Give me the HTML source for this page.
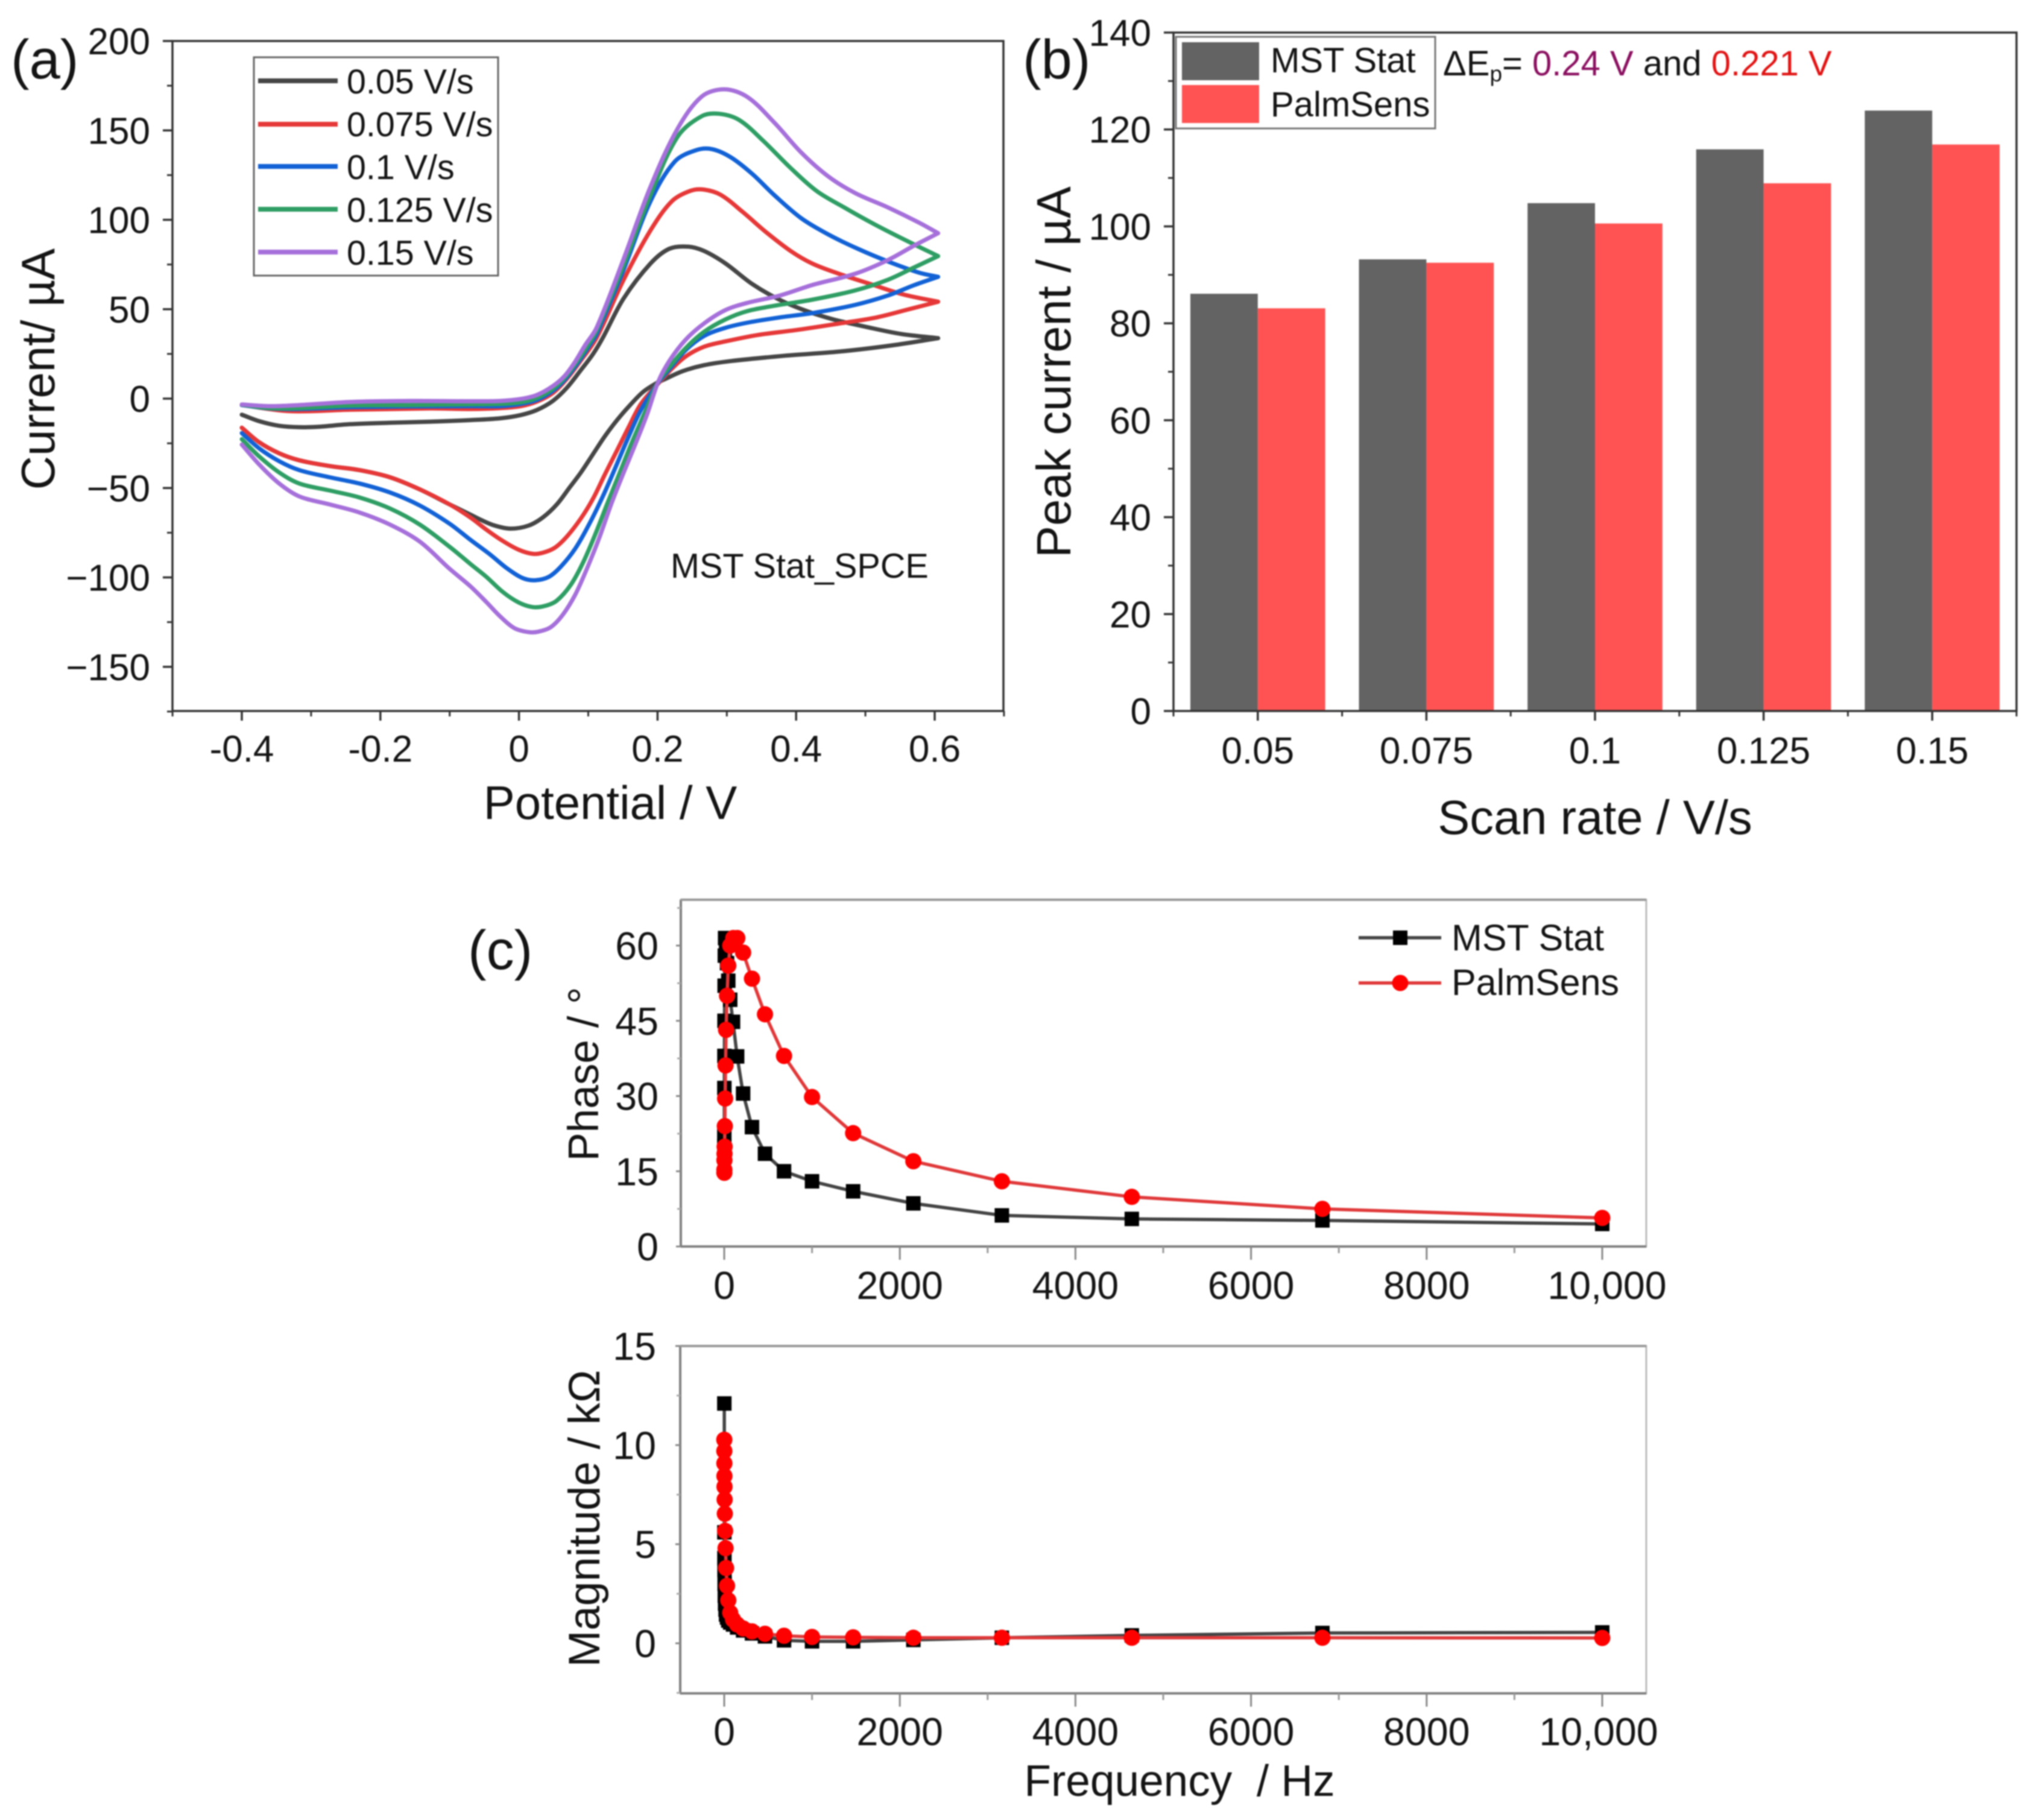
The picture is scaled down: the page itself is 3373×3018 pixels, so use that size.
<!DOCTYPE html>
<html lang="en">
<head>
<meta charset="utf-8">
<title>Electrochemical comparison of MST Stat and PalmSens</title>
<style>
html,body{margin:0;padding:0;background:#fff;width:3373px;height:3018px;overflow:hidden}
svg{display:block;filter:blur(1.1px)}
text{font-family:"Liberation Sans",sans-serif;fill:#141414}
</style>
</head>
<body>
<svg id="figure" xmlns="http://www.w3.org/2000/svg" width="3373" height="3018" viewBox="0 0 3373 3018">
  <rect x="0" y="0" width="3373" height="3018" fill="#fff"/>

  <text x="18" y="130" font-size="92">(a)</text>
  <text x="1696" y="130" font-size="92">(b)</text>
  <text x="776" y="1607" font-size="92">(c)</text>

  <g id="panelA"></g>
  <g id="panelB"></g>
  <g id="panelC1"></g>
  <g id="panelC2"></g>

  <text transform="translate(90 612) rotate(-90)" text-anchor="middle" font-size="78">Current/ µA</text>
  <text x="1012" y="1358" text-anchor="middle" font-size="78">Potential / V</text>
  <text x="1112" y="958" font-size="57.6">MST Stat_SPCE</text>

  <g>
    <rect x="421" y="95" width="405" height="362" fill="#fff" stroke="#666" stroke-width="3"/>
    <g><line x1="428" x2="560" y1="134" y2="134" stroke="#464646" stroke-width="8"/><text x="575" y="155" font-size="57.4">0.05 V/s</text></g>
    <g><line x1="428" x2="560" y1="206" y2="206" stroke="#e63838" stroke-width="8"/><text x="575" y="226" font-size="57.4">0.075 V/s</text></g>
    <g><line x1="428" x2="560" y1="276" y2="276" stroke="#1262d6" stroke-width="8"/><text x="575" y="297" font-size="57.4">0.1 V/s</text></g>
    <g><line x1="428" x2="560" y1="347" y2="347" stroke="#2f9e64" stroke-width="8"/><text x="575" y="368" font-size="57.4">0.125 V/s</text></g>
    <g><line x1="428" x2="560" y1="418" y2="418" stroke="#a670da" stroke-width="8"/><text x="575" y="439" font-size="57.4">0.15 V/s</text></g>
  </g>

  <text transform="translate(1775 617) rotate(-90)" text-anchor="middle" font-size="79.5">Peak current / µA</text>
  <text x="2645" y="1383" text-anchor="middle" font-size="79.5">Scan rate / V/s</text>

  <g>
    <rect x="1950" y="61" width="430" height="152" fill="#fff" stroke="#777" stroke-width="3"/>
    <g><rect x="1960" y="70" width="128" height="63" fill="#636363"/><text x="2107" y="120" font-size="58">MST Stat</text></g>
    <g><rect x="1960" y="141" width="128" height="63" fill="#ff5353"/><text x="2107" y="193" font-size="58">PalmSens</text></g>
  </g>
  <text x="2393" y="125" font-size="58">ΔE<tspan font-size="37" dy="10">p</tspan><tspan dy="-10">= </tspan><tspan style="fill:#8a1060">0.24 V</tspan> and <tspan style="fill:#e01414">0.221 V</tspan></text>

  <text transform="translate(992 1781) rotate(-90)" text-anchor="middle" font-size="71">Phase / °</text>
  <g>
    <g><line x1="2253" x2="2390" y1="1555" y2="1555" stroke="#444" stroke-width="5.5"/><rect x="2310" y="1543" width="24" height="24" fill="#000"/><text x="2407" y="1576" font-size="61">MST Stat</text></g>
    <g><line x1="2253" x2="2390" y1="1630" y2="1630" stroke="#e0393a" stroke-width="5.5"/><circle cx="2322" cy="1630" r="13.5" fill="#f00"/><text x="2407" y="1650" font-size="61">PalmSens</text></g>
  </g>

  <text transform="translate(994 2518) rotate(-90)" text-anchor="middle" font-size="73">Magnitude / kΩ</text>
  <text x="1956" y="2978" text-anchor="middle" font-size="73" xml:space="preserve">Frequency  / Hz</text>
</svg>

<script>
// ---------- Panel (a): cyclic voltammograms (potential V, current µA) ----------
const potential005 = [-0.4,-0.375,-0.346,-0.317,-0.288,-0.244,-0.186,-0.128,-0.07,-0.027,0.0024,0.0256,0.0488,0.069,0.0894,0.107,0.121,0.151,0.19,0.217,0.244,0.267,0.298,0.337,0.376,0.415,0.454,0.5,0.551,0.605,
  0.539,0.462,0.384,0.306,0.267,0.236,0.209,0.2,0.179,0.159,0.1416,0.124,0.107,0.0894,0.072,0.0546,0.0343,0.014,-0.012,-0.035,-0.0556,-0.07,-0.1,-0.143,-0.186,-0.23,-0.273,-0.317,-0.346,-0.375,-0.4];
const current005 = [-9,-12.6,-15.2,-16,-15.7,-14.3,-13.5,-12.9,-12,-11,-9.2,-6.4,-1.3,6,16,25,34,56,75.6,83.8,85,82.6,75.6,64,55.3,49,44.3,40.2,36.2,33.8,
  29.8,26.3,24,21,18.7,15.3,10.6,9,3.7,-4.2,-12,-21,-31,-41.3,-50.3,-59.2,-66.5,-71,-72.7,-71,-67.7,-64.9,-59.2,-50.8,-44,-40,-37.7,-34.5,-30.6,-24.4,-16.3];

const potential0075 = [-0.4,-0.331,-0.244,-0.128,-0.07,-0.027,0.0024,0.0256,0.0488,0.069,0.088,0.112,0.151,0.19,0.221,0.248,0.267,0.291,0.322,0.357,0.392,0.423,0.462,0.508,0.555,0.605,
  0.563,0.516,0.462,0.403,0.345,0.298,0.267,0.24,0.217,0.2,0.176,0.159,0.1416,0.124,0.107,0.0894,0.069,0.0517,0.0343,0.02,-0.0005,-0.0238,-0.047,-0.07,-0.1,-0.143,-0.186,-0.23,-0.273,-0.317,-0.346,-0.375,-0.4];
const current0075 = [-3.6,-7,-6.2,-5.5,-5.8,-5.3,-4.2,-1.7,3.1,11,20.6,34,66.4,94.2,110.5,116.3,116.9,114,104.7,93,82.6,75.6,69.8,64,58.2,54.2,
  50,45.4,42,38.5,35.6,32,29,23.4,15.3,8,-3,-15.4,-28.9,-42.4,-55.9,-67,-77.2,-83.4,-86.2,-86.8,-84.5,-79.5,-73.3,-66.5,-59.2,-50.8,-44,-40,-37.7,-34.5,-30.6,-24.4,-16.3];

const potential01 = [-0.4,-0.36,-0.317,-0.244,-0.157,-0.07,-0.027,0.0024,0.0256,0.0488,0.066,0.085,0.104,0.112,0.151,0.19,0.225,0.256,0.279,0.306,0.337,0.368,0.407,0.446,0.489,0.536,0.578,0.605,
  0.57,0.532,0.485,0.423,0.376,0.33,0.298,0.267,0.24,0.217,0.201,0.176,0.156,0.1387,0.121,0.101,0.081,0.0604,0.043,0.0227,0.005,-0.018,-0.041,-0.07,-0.1,-0.143,-0.186,-0.23,-0.273,-0.317,-0.346,-0.375,-0.4];
const current01 = [-3.6,-5.5,-5.8,-4.8,-4.4,-4.2,-4.2,-3,-0.8,4.3,10.5,20,31,36,72,110.5,132.6,139,139.5,134.9,125.6,114,101,91.9,83.8,76.2,70.4,68.1,
  63.4,57.6,52.4,47.8,45.4,42.5,39.6,35,26.9,16.4,8.9,-6.4,-23.3,-39,-54.7,-70.5,-84,-94,-99.7,-101.6,-100.3,-94.7,-87.4,-79,-70,-59.8,-52.5,-47.5,-44,-40,-35,-27.8,-19.3];

const potential0125 = [-0.4,-0.36,-0.317,-0.244,-0.157,-0.07,-0.027,0.0024,0.0256,0.0488,0.066,0.0836,0.101,0.112,0.151,0.19,0.229,0.264,0.289,0.318,0.353,0.392,0.43,0.469,0.512,0.559,0.605,
  0.57,0.532,0.485,0.423,0.376,0.33,0.298,0.267,0.24,0.217,0.201,0.182,0.162,0.1445,0.127,0.11,0.0923,0.075,0.0546,0.037,0.0198,-0.0005,-0.0238,-0.047,-0.07,-0.1,-0.143,-0.186,-0.23,-0.273,-0.317,-0.346,-0.375,-0.4];
const current0125 = [-3.4,-5.3,-5.3,-3.9,-3.6,-3.2,-3,-2.1,0.3,5.4,11.6,20.6,30.7,38,74.5,114,146.5,158,159.3,155.8,144,129,116,107,97.7,88.4,79.7,
  73.3,66.4,60.5,55.3,52.4,49,44.3,37.3,28,17.6,9.4,-7.5,-25.5,-42.4,-59.2,-76,-91.8,-104,-113,-116,-116.6,-114,-108,-99.7,-92.5,-82.9,-70.5,-61.5,-55.3,-51.4,-47.5,-41.3,-32.3,-22.7];

const potential015 = [-0.4,-0.36,-0.317,-0.244,-0.157,-0.07,-0.027,0.0024,0.0256,0.0488,0.066,0.081,0.095,0.112,0.151,0.19,0.229,0.264,0.297,0.33,0.368,0.407,0.446,0.485,0.532,0.578,0.605,
  0.57,0.532,0.485,0.423,0.376,0.33,0.298,0.267,0.24,0.217,0.201,0.185,0.168,0.15,0.133,0.1155,0.098,0.081,0.063,0.046,0.0285,0.014,-0.0064,-0.0266,-0.047,-0.07,-0.1,-0.143,-0.186,-0.23,-0.273,-0.317,-0.346,-0.375,-0.4];
const current015 = [-3.3,-4.2,-3.6,-1.9,-1.3,-1.5,-1.3,-0.2,2,7,12.7,20.6,29.6,39.6,78,118.6,151,169,173,168.6,154.6,137.8,124.4,115,107,98.3,92.5,
  85.5,77.4,69.8,63.5,57.6,53.6,49.5,42,32.7,21,9.4,-8.7,-25.5,-42.4,-59.2,-78.3,-95.2,-109.8,-121,-127.8,-130.3,-130.6,-128.4,-122,-113.8,-105,-95.2,-80,-70.5,-63.7,-59.2,-54.7,-47.5,-36.8,-25.7];

const cvNames = ['0.05','0.075','0.1','0.125','0.15'];
const cvYTicks = [-150,-100,-50,0,50,100,150,200];
const cvYMinor = [-175,-125,-75,-25,25,75,125,175];
const cvXTicks = [-0.4,-0.2,0,0.2,0.4,0.6];
const cvXMinor = [-0.5,-0.3,-0.1,0.1,0.3,0.5,0.7];
const cvXLabels = ['-0.4','-0.2','0','0.2','0.4','0.6'];
const cvYLabels = ['\u2212150','\u2212100','\u221250','0','50','100','150','200'];

// ---------- Panel (b): peak current bars ----------
const scanRates = ['0.05','0.075','0.1','0.125','0.15'];
const mstPeak = [86.1,93.2,104.8,115.9,123.9];
const palmPeak = [83.1,92.5,100.6,108.9,116.9];
const peakYTicks = [0,20,40,60,80,100,120,140];
const peakYMinor = [10,30,50,70,90,110,130];

// ---------- Panel (c): impedance ----------
const phaseFreqMst = [10000,6813,4642,3162,2154,1468,1000,681,464,316,215,147,100,68,46,32,21,15,10,6.8,4.6,3.2,2.2,1.5,1,0.7];
const phaseMst = [4.5,5.2,5.5,6.2,8.6,11,13,15,18.5,23.8,30.5,37.9,44.8,49.2,53,56.5,60,61.5,61.5,58,52,45,38,31.6,22.6,20];
const phaseFreqPalm = [10000,6813,4642,3162,2154,1468,1000,681,464,316,215,149,103,68,46,32,21,15,10,6.8,4.6,3.2,2.2,1.5,1];
const phasePalm = [5.7,7.5,9.9,13,17,22.6,29.8,38,46.3,53.4,58.6,61.5,61.5,60,56,50,43.2,36.1,29.5,24,19.9,18.5,17.2,15.3,14.7];
const phaseYTicks = [0,15,30,45,60];
const phaseYMinor = [7.5,22.5,37.5,52.5,67.5];
const freqTicks = [0,2000,4000,6000,8000,10000];
const freqLabels = ['0','2000','4000','6000','8000','10,000'];
const freqMinor = [1000,3000,5000,7000,9000];
const magFreqMst = [10000,6813,4642,3162,2154,1468,1000,681,464,316,215,147,100,68,46,32,21,15,10,6.8,4.6,3.2,2.2,1.5,1];
const magMst = [0.55,0.52,0.4,0.28,0.17,0.1,0.1,0.15,0.35,0.5,0.65,0.8,0.95,1.05,1.15,1.3,1.45,1.7,2,2.4,3,3.7,4.3,5.6,12.1];
const magFreqPalm = [10000,6813,4642,3162,2154,1468,1000,681,464,316,215,147,100,68,46,32,21,15,10,6.8,4.6,3.2,2.2,1.5,1,0.7];
const magPalm = [0.27,0.28,0.28,0.28,0.28,0.3,0.32,0.38,0.48,0.6,0.75,0.95,1.2,1.54,2.17,2.9,3.8,4.8,5.67,6.54,7.25,7.9,8.44,9.08,9.7,10.27];
const magYTicks = [0,5,10,15];
const magYMinor = [-2.5,2.5,7.5,12.5];

const NS = 'http://www.w3.org/2000/svg';
function make(parent, tag, attrs) {
  const el = document.createElementNS(NS, tag);
  for (const k in attrs) el.setAttribute(k, attrs[k]);
  parent.appendChild(el);
  return el;
}
function scale(d0, d1, r0, r1) {
  return v => r0 + (v - d0) * (r1 - r0) / (d1 - d0);
}
// Chord-length parameterised Catmull-Rom: avoids kinks on unevenly spaced points
function smoothPath(px, py) {
  const n = px.length;
  const seg = [];
  for (let i = 0; i < n - 1; i++) seg.push(Math.hypot(px[i + 1] - px[i], py[i + 1] - py[i]) || 1);
  const mx = [], my = [];
  for (let i = 0; i < n; i++) {
    const a = Math.max(i - 1, 0), b = Math.min(i + 1, n - 1);
    let len = 0;
    for (let k = a; k < b; k++) len += seg[k];
    mx.push((px[b] - px[a]) / len);
    my.push((py[b] - py[a]) / len);
  }
  let d = 'M' + px[0].toFixed(1) + ' ' + py[0].toFixed(1);
  for (let i = 0; i < n - 1; i++) {
    const h = seg[i] / 3;
    d += 'C' + (px[i] + mx[i] * h).toFixed(1) + ' ' + (py[i] + my[i] * h).toFixed(1) + ' ' +
      (px[i + 1] - mx[i + 1] * h).toFixed(1) + ' ' + (py[i + 1] - my[i + 1] * h).toFixed(1) + ' ' +
      px[i + 1].toFixed(1) + ' ' + py[i + 1].toFixed(1);
  }
  return d;
}
function tickY(g, x, y, len, color, width, name) {
  const t = make(g, 'line', {x1: x - len, x2: x, y1: y, y2: y, stroke: color, 'stroke-width': width});
  
  
}
function tickX(g, x, y, len, color, width, name) {
  const t = make(g, 'line', {x1: x, x2: x, y1: y, y2: y + len, stroke: color, 'stroke-width': width});
  
  
}
function label(g, x, y, str, size, anchor, name) {
  const t = make(g, 'text', {x: x, y: y, 'font-size': size, 'text-anchor': anchor});
  t.textContent = str;
  
  
}
function frame(g, x0, y0, x1, y1, color, width, name) {
  const r = make(g, 'rect', {x: x0, y: y0, width: x1 - x0, height: y1 - y0, fill: 'none', stroke: color, 'stroke-width': width});
  
  
}

// ===== Panel A =====
(function () {
  const g = document.getElementById('panelA');
  const L = 286, R = 1664, T = 68, B = 1179;
  const x = scale(-0.4, 0.6, 401, 1550), y = scale(0, 200, 661, 68);
  frame(g, L, T, R, B, '#333', 3.5, 'cv-plot-frame');
  cvYTicks.forEach((v, i) => {
    tickY(g, L, y(v), 16, '#333', 3.5, 'cv-y-tick');
    label(g, 249, y(v) + 22, cvYLabels[i], 62, 'end', 'cv-y-tick-label');
  });
  cvYMinor.forEach(v => tickY(g, L, y(v), 9, '#333', 3, 'cv-y-minor-tick'));
  cvXTicks.forEach((v, i) => {
    tickX(g, x(v), B, 16, '#333', 3.5, 'cv-x-tick');
    label(g, x(v), 1263, cvXLabels[i], 62, 'middle', 'cv-x-tick-label');
  });
  cvXMinor.forEach(v => tickX(g, x(v), B, 9, '#333', 3, 'cv-x-minor-tick'));
  const series = [
    [potential005, current005, '#464646'],
    [potential0075, current0075, '#e63838'],
    [potential01, current01, '#1262d6'],
    [potential0125, current0125, '#2f9e64'],
    [potential015, current015, '#a670da']
  ];
  series.forEach((s, i) => {
    const V = s[0], I = s[1];
    const turn = V.indexOf(Math.max.apply(null, V));
    const px = V.map(x), py = I.map(y);
    const d = smoothPath(px.slice(0, turn + 1), py.slice(0, turn + 1)) + smoothPath(px.slice(turn), py.slice(turn));
    const p = make(g, 'path', {d: d, fill: 'none', stroke: s[2], 'stroke-width': 7, 'stroke-linejoin': 'round', 'stroke-linecap': 'round'});
    
    
  });
})();

// ===== Panel B =====
(function () {
  const g = document.getElementById('panelB');
  const L = 1946, R = 3344, T = 54, B = 1179;
  const y = scale(0, 140, B, T);
  const step = (R - L) / scanRates.length;
  const xc = i => L + (i + 0.5) * step;
  const bw = step * 0.4;
  scanRates.forEach((c, i) => {
    const a = make(g, 'rect', {x: xc(i) - bw, y: y(mstPeak[i]), width: bw, height: B - y(mstPeak[i]), fill: '#636363'});
    
    
    const b = make(g, 'rect', {x: xc(i), y: y(palmPeak[i]), width: bw, height: B - y(palmPeak[i]), fill: '#ff5353'});
    
    
    tickX(g, xc(i), B, 16, '#333', 3.5, 'peak-x-tick');
    label(g, xc(i), 1266, c, 62, 'middle', 'peak-x-tick-label');
    tickX(g, L + i * step, B, 9, '#333', 3, 'peak-x-minor-tick');
  });
  tickX(g, R, B, 9, '#333', 3, 'peak-x-minor-tick');
  frame(g, L, T, R, B, '#333', 3.5, 'peak-plot-frame');
  peakYTicks.forEach(v => {
    tickY(g, L, y(v), 16, '#333', 3.5, 'peak-y-tick');
    label(g, 1909, y(v) + 22, String(v), 62, 'end', 'peak-y-tick-label');
  });
  peakYMinor.forEach(v => tickY(g, L, y(v), 9, '#333', 3, 'peak-y-minor-tick'));
})();

// ===== Panel C helpers =====
function impedancePanel(g, o) {
  const x = scale(0, 10000, 1201, 2657), y = scale(0, o.yRef, o.y0, o.yRefPx);
  const box = make(g, 'rect', {x: o.L, y: o.T, width: o.R - o.L, height: o.B - o.T, fill: 'none', stroke: '#bbb', 'stroke-width': 3});
  
  
  const axisY = make(g, 'line', {x1: o.L, x2: o.L, y1: o.T, y2: o.B, stroke: '#808080', 'stroke-width': 4});
  
  
  const axisX = make(g, 'line', {x1: o.L, x2: o.R, y1: o.B, y2: o.B, stroke: '#808080', 'stroke-width': 4});
  
  
  const top = make(g, 'line', {x1: o.L, x2: o.R, y1: o.T, y2: o.T, stroke: '#999', 'stroke-width': 4});
  
  
  o.yTicks.forEach(v => {
    tickY(g, o.L, y(v), 8, '#888', 3, o.name + '-y-tick');
    label(g, o.labelX, y(v) + 23, String(v), 64.5, 'end', o.name + '-y-tick-label');
  });
  o.yMinor.forEach(v => tickY(g, o.L, y(v), 6, '#aaa', 3, o.name + '-y-minor-tick'));
  freqTicks.forEach((v, i) => {
    tickX(g, x(v), o.B, 22, '#888', 3, o.name + '-x-tick');
    label(g, i === 5 ? x(v) + o.lastShift : x(v), o.xLabelY, freqLabels[i], 64.5, 'middle', o.name + '-x-tick-label');
  });
  freqMinor.forEach(v => tickX(g, x(v), o.B, 11, '#999', 3, o.name + '-x-minor-tick'));

  const linePath = (fs, vs) => fs.map((f, i) => (i ? 'L' : 'M') + x(f).toFixed(1) + ' ' + y(vs[i]).toFixed(1)).join('');
  const blackLine = make(g, 'path', {d: linePath(o.fA, o.vA), fill: 'none', stroke: '#444', 'stroke-width': 5.5, 'stroke-linejoin': 'round'});
  
  
  o.fA.forEach((f, i) => {
    const m = make(g, 'rect', {x: x(f) - 12, y: y(o.vA[i]) - 12, width: 24, height: 24, fill: '#000'});
    
    
  });
  const redLine = make(g, 'path', {d: linePath(o.fB, o.vB), fill: 'none', stroke: '#e0393a', 'stroke-width': 5.5, 'stroke-linejoin': 'round'});
  
  
  o.fB.forEach((f, i) => {
    const m = make(g, 'circle', {cx: x(f), cy: y(o.vB[i]), r: 13.5, fill: '#f00'});
    
    
  });
}
impedancePanel(document.getElementById('panelC1'), {
  name: 'phase', L: 1129, R: 2730, T: 1492, B: 2067, y0: 2067, yRef: 60, yRefPx: 1568,
  yTicks: phaseYTicks, yMinor: phaseYMinor, labelX: 1092, xLabelY: 2154, lastShift: 8,
  fA: phaseFreqMst, vA: phaseMst, fB: phaseFreqPalm, vB: phasePalm
});
impedancePanel(document.getElementById('panelC2'), {
  name: 'magnitude', L: 1128, R: 2730, T: 2232, B: 2808, y0: 2725, yRef: 15, yRefPx: 2232,
  yTicks: magYTicks, yMinor: magYMinor, labelX: 1088, xLabelY: 2894, lastShift: -6,
  fA: magFreqMst, vA: magMst, fB: magFreqPalm, vB: magPalm
});
</script>
</body>
</html>
